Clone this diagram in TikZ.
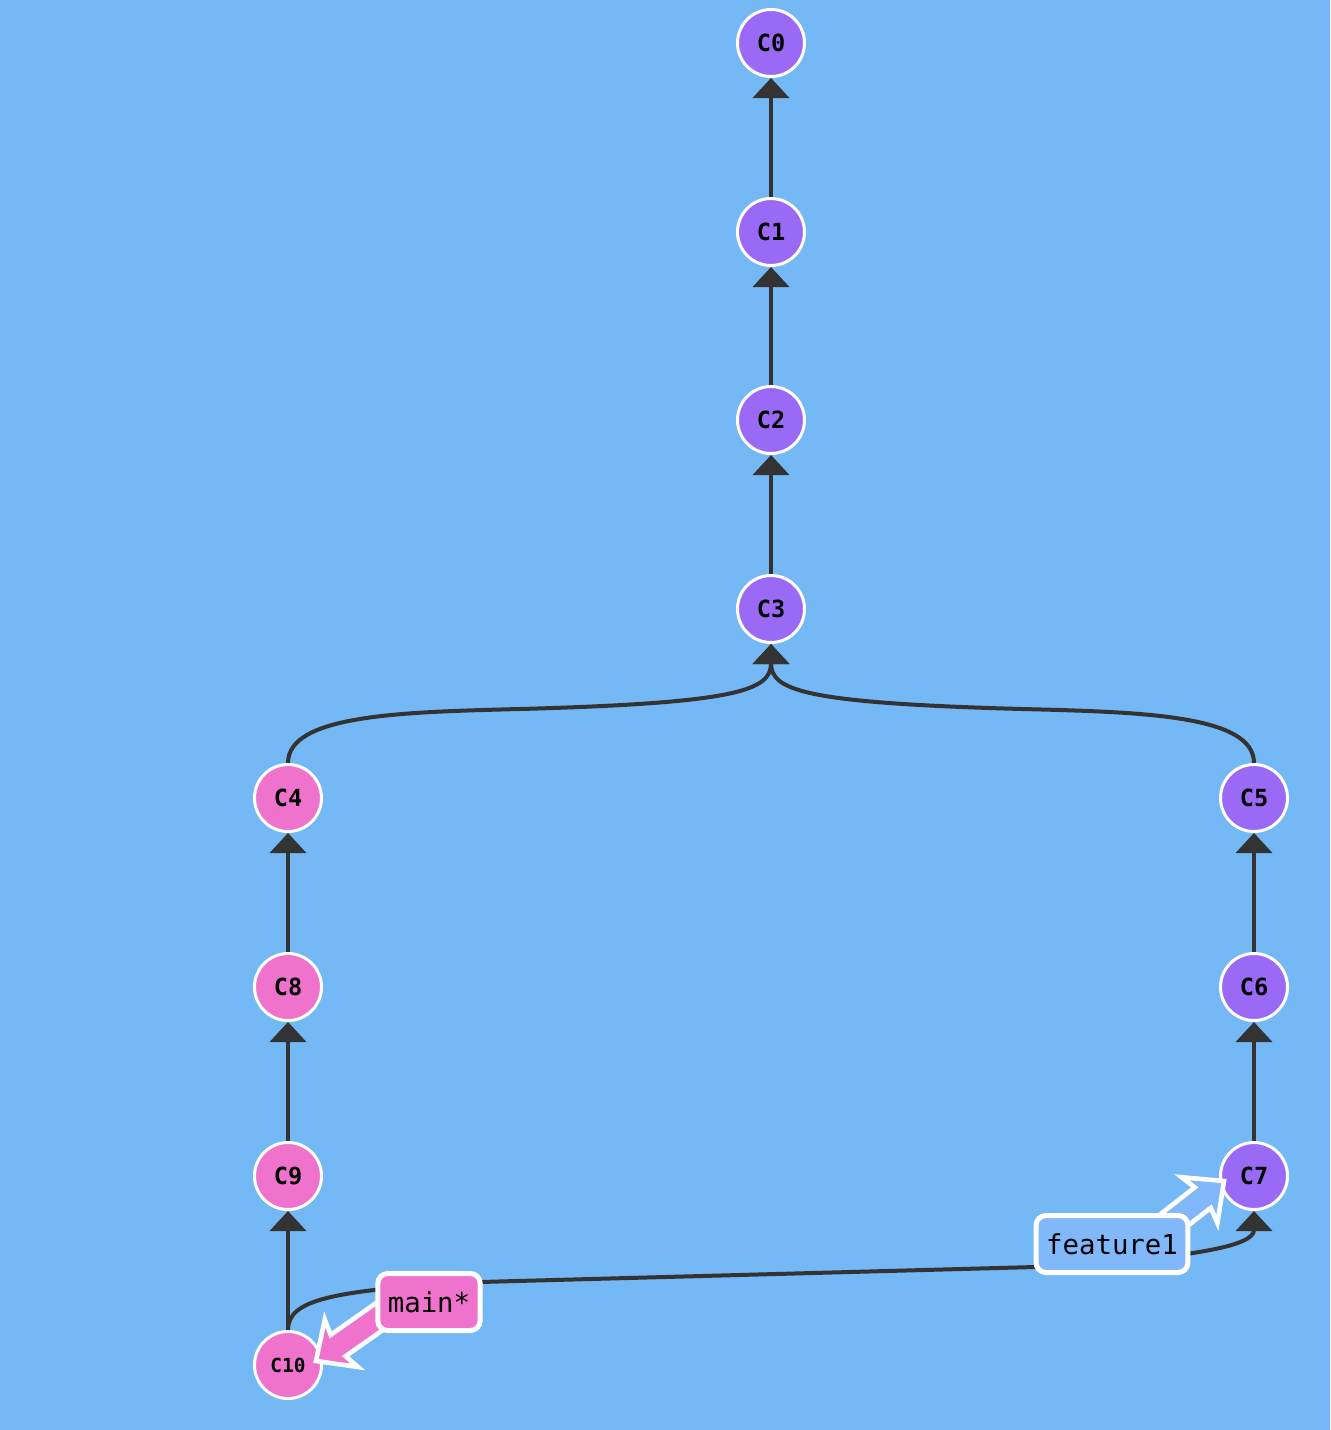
\documentclass[tikz,border=0pt]{standalone}
\usepackage{fontspec}
\setmonofont{DejaVu Sans Mono}
\usetikzlibrary{arrows.meta}
\definecolor{bg}{RGB}{116,184,245}
\definecolor{cpurple}{RGB}{154,106,246}
\definecolor{cpink}{RGB}{239,114,204}
\definecolor{lblue}{RGB}{128,184,249}
\definecolor{edgec}{RGB}{51,51,51}
\begin{document}
\begin{tikzpicture}[x=0.5pt,y=-0.5pt,
  commit/.style={circle, draw=white, line width=1.5pt, minimum size=33.5pt, inner sep=0pt, text=black, font=\ttfamily\bfseries\fontsize{11.8}{12}\selectfont},
  pc/.style={commit, fill=cpink},
  uc/.style={commit, fill=cpurple},
  edge/.style={draw=edgec, line width=2pt, -{Triangle[width=18pt,length=10pt]}},
  branch/.style={draw=white, line width=2.5pt, rounded corners=5pt, inner xsep=5pt, inner ysep=0pt, minimum height=28.5pt, text=black, font=\ttfamily\fontsize{13.7}{14}\selectfont},
  barrow/.style={draw=white, line width=2.3pt, line join=miter}
]
\fill[bg] (0,0) rectangle (1330,1430);
\useasboundingbox (0,0) rectangle (1330,1430);

% commits
\node[uc] (C0) at (771,43) {C0};
\node[uc] (C1) at (771,232) {C1};
\node[uc] (C2) at (771,420) {C2};
\node[uc] (C3) at (771,609) {C3};
\node[pc] (C4) at (288,798) {C4};
\node[uc] (C5) at (1254,798) {C5};
\node[uc] (C6) at (1254,987) {C6};
\node[uc] (C7) at (1254,1176) {C7};
\node[pc] (C8) at (288,987) {C8};
\node[pc] (C9) at (288,1176) {C9};
\node[pc, font=\ttfamily\bfseries\fontsize{9.7}{10}\selectfont] (C10) at (288,1365) {C10};

% edges
\draw[edge] (C1) -- (C0);
\draw[edge] (C2) -- (C1);
\draw[edge] (C3) -- (C2);
\draw[edge] (C4.north) .. controls (288,715) and (400,712) .. (520,709) .. controls (740,703) and (771,690) .. (C3.south);
\draw[edge] (C5.north) .. controls (1254,715) and (1142,712) .. (1022,709) .. controls (802,703) and (771,690) .. (C3.south);
\draw[edge] (C8) -- (C4);
\draw[edge] (C9) -- (C8);
\draw[edge] (C10) -- (C9);
\draw[edge] (C6) -- (C5);
\draw[edge] (C7) -- (C6);
\draw[edge] (C10.north) .. controls (288,1300) and (330,1290) .. (480,1282) -- (1035,1267) .. controls (1200,1258) and (1254,1245) .. (C7.south);

% branch arrows
\begin{scope}[shift={(316,1361)}, rotate=215]
  \draw[barrow, fill=cpink] (0,0) -- (-31,29) -- (-27,13) -- (-130,13) -- (-130,-13) -- (-27,-13) -- (-31,-29) -- cycle;
\end{scope}
\begin{scope}[shift={(1224,1181)}, rotate=38]
  \draw[barrow, fill=lblue] (0,0) -- (-31,29) -- (-27,13) -- (-130,13) -- (-130,-13) -- (-27,-13) -- (-31,-29) -- cycle;
\end{scope}

% branch labels
\node[branch, fill=cpink] (main) at (429,1302) {main*};
\node[branch, fill=lblue] (feat) at (1112,1244) {feature1};
\end{tikzpicture}
\end{document}
